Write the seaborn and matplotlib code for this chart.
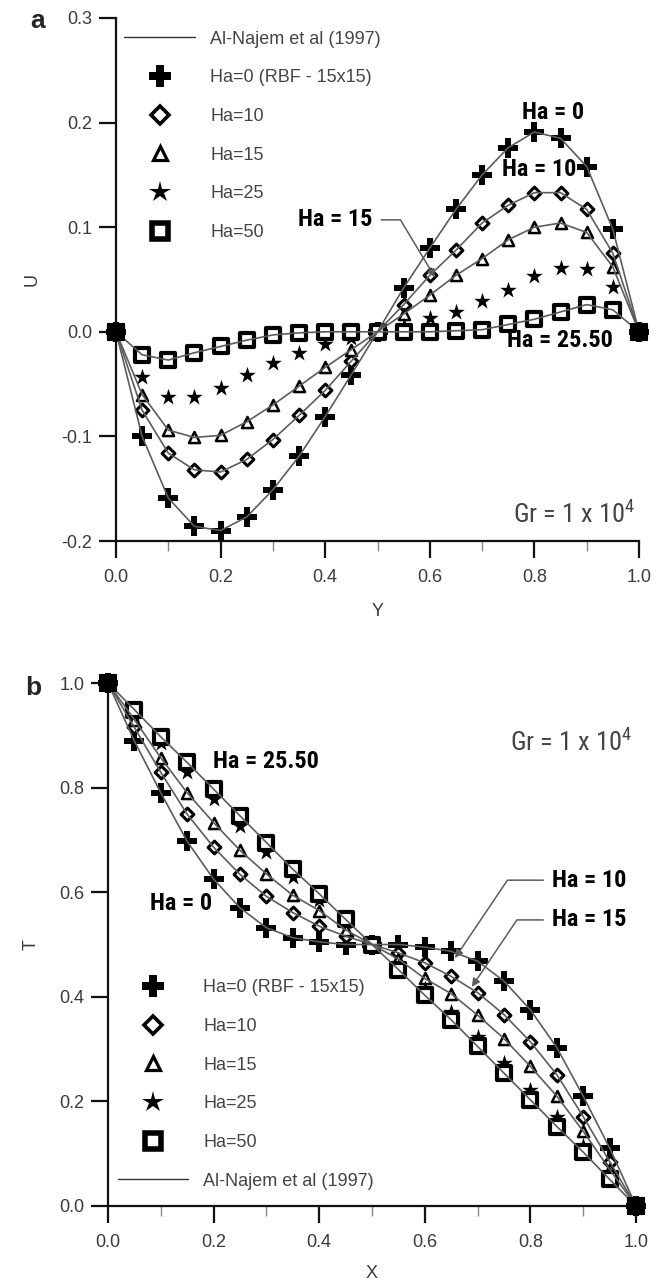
import numpy as np
import pandas as pd
import matplotlib
matplotlib.use("Agg")
import matplotlib.pyplot as plt
import seaborn as sns
from matplotlib.lines import Line2D
from matplotlib.ticker import MultipleLocator, FormatStrFormatter

# ==================================================
# DATA
# ==================================================

pos = [0.00, 0.05, 0.10, 0.15, 0.20, 0.25, 0.30, 0.35, 0.40, 0.45, 0.50,
       0.55, 0.60, 0.65, 0.70, 0.75, 0.80, 0.85, 0.90, 0.95, 1.00]

# panel a : velocity U against Y
u_ha0 = [0.000, -0.100, -0.159, -0.186, -0.190, -0.177, -0.151, -0.119, -0.081, -0.041, 0.000,
         0.042, 0.080, 0.117, 0.150, 0.176, 0.191, 0.185, 0.158, 0.098, 0.000]
u_ha10 = [0.000, -0.075, -0.116, -0.132, -0.134, -0.122, -0.103, -0.080, -0.056, -0.028, 0.000,
          0.026, 0.054, 0.078, 0.104, 0.121, 0.133, 0.133, 0.117, 0.075, 0.000]
u_ha15 = [0.000, -0.060, -0.094, -0.101, -0.099, -0.086, -0.070, -0.052, -0.034, -0.017, 0.000,
          0.017, 0.035, 0.054, 0.070, 0.088, 0.100, 0.104, 0.095, 0.062, 0.000]
u_ha25 = [0.000, -0.043, -0.062, -0.062, -0.054, -0.041, -0.030, -0.020, -0.012, -0.006, 0.000,
          0.006, 0.013, 0.019, 0.029, 0.040, 0.053, 0.061, 0.060, 0.043, 0.000]
u_ha50 = [0.000, -0.022, -0.027, -0.020, -0.014, -0.008, -0.003, -0.001, 0.000, 0.000, 0.000,
          0.000, 0.000, 0.001, 0.002, 0.007, 0.012, 0.019, 0.026, 0.021, 0.000]

# panel b : temperature T against X
t_ha0 = [1.000, 0.889, 0.790, 0.697, 0.625, 0.570, 0.532, 0.513, 0.505, 0.500, 0.500,
         0.500, 0.495, 0.487, 0.468, 0.430, 0.375, 0.303, 0.210, 0.111, 0.000]
t_ha10 = [1.000, 0.915, 0.829, 0.749, 0.686, 0.634, 0.592, 0.561, 0.535, 0.516, 0.500,
          0.484, 0.465, 0.439, 0.408, 0.366, 0.314, 0.251, 0.171, 0.085, 0.000]
t_ha15 = [1.000, 0.930, 0.857, 0.790, 0.733, 0.680, 0.635, 0.594, 0.565, 0.528, 0.500,
          0.472, 0.435, 0.406, 0.365, 0.320, 0.267, 0.210, 0.143, 0.070, 0.000]
t_ha25 = [1.000, 0.940, 0.885, 0.829, 0.778, 0.727, 0.676, 0.629, 0.585, 0.543, 0.500,
          0.457, 0.415, 0.371, 0.324, 0.273, 0.222, 0.171, 0.115, 0.060, 0.000]
t_ha50 = [1.000, 0.949, 0.897, 0.848, 0.797, 0.746, 0.695, 0.644, 0.597, 0.548, 0.500,
          0.452, 0.403, 0.356, 0.305, 0.254, 0.203, 0.152, 0.103, 0.051, 0.000]

# wall points (filled squares at the ends)
wall_pos = [0.0, 1.0]
wall_u = [0.0, 0.0]
wall_t = [1.0, 0.0]

series = ["Ha=0", "Ha=10", "Ha=15", "Ha=25", "Ha=50"]
legend_labels = ["Ha=0 (RBF - 15x15)", "Ha=10", "Ha=15", "Ha=25", "Ha=50"]
line_series = ["Ha=0", "Ha=10", "Ha=15", "Ha=50"]
ref_label = "Al-Najem et al (1997)"

df_u = pd.DataFrame({
    "pos": pos * 5,
    "val": u_ha0 + u_ha10 + u_ha15 + u_ha25 + u_ha50,
    "series": np.repeat(series, len(pos)),
})
df_t = pd.DataFrame({
    "pos": pos * 5,
    "val": t_ha0 + t_ha10 + t_ha15 + t_ha25 + t_ha50,
    "series": np.repeat(series, len(pos)),
})

# ==================================================
# STYLE
# ==================================================

sns.set_style("ticks")
plt.rcParams["font.family"] = ["Liberation Sans", "DejaVu Sans"]
plt.rcParams["axes.unicode_minus"] = False
plt.rcParams["mathtext.default"] = "regular"

NARROW = ["Roboto Condensed", "Liberation Sans Narrow", "Roboto", "DejaVu Sans"]
LINE_COLOR = "#5c5c5c"
TEXT_GRAY = "#3a3a3a"

marker_style = {
    "Ha=0": dict(marker="P", ms=14, face="black", mew=0.0),
    "Ha=10": dict(marker="D", ms=6.5, face="white", mew=2.2),
    "Ha=15": dict(marker="^", ms=8, face="white", mew=1.8),
    "Ha=25": dict(marker="*", ms=12.5, face="black", mew=0.0),
    "Ha=50": dict(marker="s", ms=10, face="white", mew=3.0),
}
legend_style = {
    "Ha=0": dict(marker="P", ms=16, face="black", mew=0.0),
    "Ha=10": dict(marker="D", ms=9, face="white", mew=2.6),
    "Ha=15": dict(marker="^", ms=10.5, face="white", mew=2.3),
    "Ha=25": dict(marker="*", ms=16, face="black", mew=0.0),
    "Ha=50": dict(marker="s", ms=11.5, face="white", mew=4.0),
}


def draw_panel(ax, df, wall_vals):
    for name in line_series:
        sub = df[df["series"] == name]
        sns.lineplot(data=sub, x="pos", y="val", color=LINE_COLOR, linewidth=1.2,
                     estimator=None, sort=False, ax=ax, zorder=4, legend=False)
    for name in series:
        st = marker_style[name]
        sub = df[df["series"] == name]
        sns.scatterplot(data=sub, x="pos", y="val", marker=st["marker"],
                        s=st["ms"] ** 2, color=st["face"], edgecolor="black",
                        linewidth=st["mew"], ax=ax, zorder=3, clip_on=False,
                        legend=False)
    sns.scatterplot(x=wall_pos, y=wall_vals, marker="s", s=13 ** 2, color="black",
                    edgecolor="black", linewidth=0, ax=ax, zorder=5, clip_on=False,
                    legend=False)

    ax.set_xlim(0, 1)
    ax.xaxis.set_major_locator(MultipleLocator(0.2))
    ax.xaxis.set_minor_locator(MultipleLocator(0.1))
    ax.xaxis.set_major_formatter(FormatStrFormatter("%.1f"))
    ax.yaxis.set_major_formatter(FormatStrFormatter("%.1f"))
    sns.despine(ax=ax)
    for side in ["left", "bottom"]:
        ax.spines[side].set_linewidth(1.6)
        ax.spines[side].set_color("#111111")
    ax.tick_params(which="major", direction="out", length=12, width=1.6,
                   color="#111111", labelsize=13, labelcolor=TEXT_GRAY)
    ax.tick_params(axis="x", which="major", pad=8)
    ax.tick_params(axis="y", which="major", pad=5)
    ax.tick_params(axis="x", which="minor", direction="out", length=7, width=1.0,
                   color="#888888")


def make_handles():
    hs = []
    for name in series:
        st = legend_style[name]
        hs.append(Line2D([], [], ls="none", marker=st["marker"], ms=st["ms"],
                         mfc=st["face"], mec="black", mew=st["mew"]))
    return hs


legend_kw = dict(frameon=False, fontsize=13, labelcolor="#444444",
                 handlelength=3.9, handletextpad=0.85, labelspacing=1.2,
                 borderpad=0, borderaxespad=0)
ref_handle = Line2D([], [], color="#333333", lw=1.0)

note_kw = dict(family=NARROW, fontweight="bold", fontsize=17.5, color="black")
gr_kw = dict(family=NARROW, fontsize=19, color="#444444")
lead_kw = dict(arrowstyle="-|>", color=LINE_COLOR, lw=1.1, mutation_scale=12,
               shrinkA=4, shrinkB=0)

# ==================================================
# FIGURE
# ==================================================

W, H = 672, 1284
fig = plt.figure(figsize=(W / 100, H / 100), dpi=100)

ax_a = fig.add_axes([116 / W, 1 - 541 / H, 523 / W, 523 / H])
ax_b = fig.add_axes([108 / W, 1 - 1206 / H, 528 / W, 523 / H])

# ---------------- panel a ----------------
draw_panel(ax_a, df_u, wall_u)
ax_a.set_ylim(-0.2, 0.3)
ax_a.yaxis.set_major_locator(MultipleLocator(0.1))
ax_a.set_xlabel("Y", fontsize=13, color=TEXT_GRAY)
ax_a.set_ylabel("U", fontsize=13, color=TEXT_GRAY)
ax_a.xaxis.set_label_coords(0.5, -0.118)
ax_a.yaxis.set_label_coords(-0.145, 0.5)

ax_a.legend([ref_handle] + make_handles(), [ref_label] + legend_labels,
            loc="upper left", bbox_to_anchor=(0.016, 0.976), **legend_kw)

ax_a.text(0.776, 0.210, "Ha = 0", ha="left", va="center", **note_kw)
ax_a.text(0.738, 0.155, "Ha = 10", ha="left", va="center", **note_kw)
ax_a.text(0.748, -0.008, "Ha = 25.50", ha="left", va="center", zorder=2, **note_kw)
ax_a.annotate("Ha = 15", xy=(0.61, 0.052), xytext=(0.348, 0.107),
              ha="left", va="center", zorder=6,
              arrowprops=dict(connectionstyle="angle,angleA=0,angleB=-59,rad=0",
                              **lead_kw), **note_kw)
ax_a.text(0.759, -0.175, "Gr = 1 x 10$^4$", ha="left", va="center", **gr_kw)

# ---------------- panel b ----------------
draw_panel(ax_b, df_t, wall_t)
ax_b.set_ylim(0, 1)
ax_b.yaxis.set_major_locator(MultipleLocator(0.2))
ax_b.set_xlabel("X", fontsize=13, color=TEXT_GRAY)
ax_b.set_ylabel("T", fontsize=13, color=TEXT_GRAY)
ax_b.xaxis.set_label_coords(0.5, -0.112)
ax_b.yaxis.set_label_coords(-0.13, 0.5)

ax_b.legend(make_handles() + [ref_handle], legend_labels + [ref_label],
            loc="lower left", bbox_to_anchor=(0.018, 0.031), **legend_kw)

ax_b.text(0.199, 0.849, "Ha = 25.50", ha="left", va="center", **note_kw)
ax_b.text(0.080, 0.579, "Ha = 0", ha="left", va="center", **note_kw)
ax_b.text(0.761, 0.887, "Gr = 1 x 10$^4$", ha="left", va="center", **gr_kw)
ax_b.annotate("Ha = 10", xy=(0.657, 0.474), xytext=(0.841, 0.623),
              ha="left", va="center", zorder=6,
              arrowprops=dict(connectionstyle="angle,angleA=0,angleB=56,rad=0",
                              **lead_kw), **note_kw)
ax_b.annotate("Ha = 15", xy=(0.689, 0.419), xytext=(0.841, 0.547),
              ha="left", va="center", zorder=6,
              arrowprops=dict(connectionstyle="angle,angleA=0,angleB=56,rad=0",
                              **lead_kw), **note_kw)

# panel letters
fig.text(38 / W, 1 - 28 / H, "a", ha="center", va="baseline",
         fontsize=19, fontweight="bold")
fig.text(33 / W, 1 - 695 / H, "b", ha="center", va="baseline",
         fontsize=19, fontweight="bold")

fig.savefig("out.png", dpi=100)
